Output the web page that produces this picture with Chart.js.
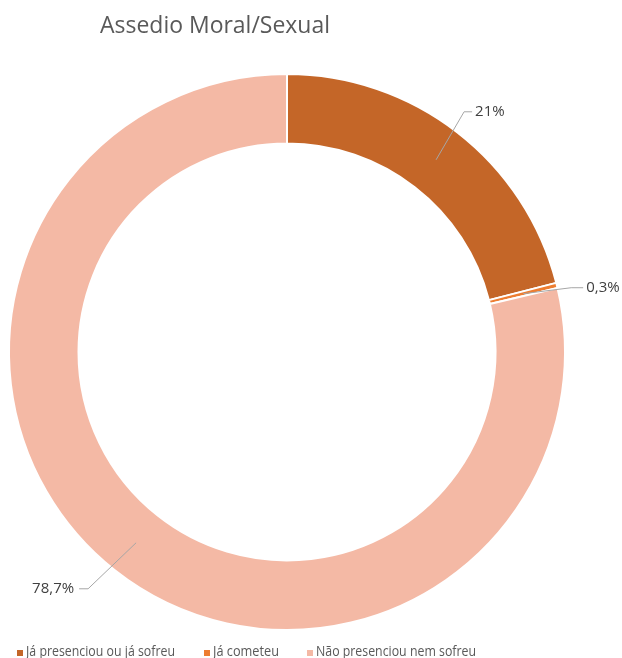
<!DOCTYPE html>
<html>
<head>
<meta charset="utf-8">
<script src="https://cdn.jsdelivr.net/npm/chart.js@4.4.1/dist/chart.umd.min.js"></script>
<style>
  html, body { margin: 0; padding: 0; background: #fff; overflow: hidden; }
  #wrap { width: 622px; height: 658px; position: relative; }
</style>
</head>
<body>
<div id="wrap"><canvas id="chart" width="622" height="658"></canvas></div>
<script>
// Chart data
const chartTitle = 'Assedio Moral/Sexual';
const categories = ['Já presenciou ou já sofreu', 'Já cometeu', 'Não presenciou nem sofreu'];
const values = [21, 0.3, 78.7];
const valueLabels = ['21%', '0,3%', '78,7%'];
const colors = ['#C46628', '#ED7D31', '#F4B9A5'];

// Leader line elbows relative to each slice anchor: [dx, dy, horizontal tail]
const leaderOffsets = [[28, -48, 8], [48, -6, 12], [-48, 46, -9]];
const legendX = [17, 204, 307];
const legendWidths = [149, 66, 160];

const textColor = '#595959';
const baseFont = '"Open Sans", "Noto Sans", sans-serif';

// Draws the title, data labels with leader lines and the legend
const decorations = {
    id: 'decorations',
    afterDatasetsDraw(chart) {
        const ctx = chart.ctx;
        const arcs = chart.getDatasetMeta(0).data;
        ctx.save();

        // title
        ctx.fillStyle = textColor;
        ctx.font = '24px ' + baseFont;
        ctx.textAlign = 'left';
        ctx.textBaseline = 'alphabetic';
        ctx.fillText(chartTitle, 100, 33, 230);

        // data labels
        ctx.font = '15px ' + baseFont;
        ctx.textBaseline = 'middle';
        arcs.forEach(function(arc, i) {
            const p = arc.getProps(['x', 'y', 'startAngle', 'endAngle', 'innerRadius', 'outerRadius'], true);
            const mid = (p.startAngle + p.endAngle) / 2;
            const r = (p.innerRadius + p.outerRadius) / 2;
            const ax = p.x + Math.cos(mid) * r;
            const ay = p.y + Math.sin(mid) * r;
            const off = leaderOffsets[i];
            const ex = ax + off[0], ey = ay + off[1];
            const tx = ex + off[2];
            ctx.strokeStyle = '#A6A6A6';
            ctx.lineWidth = 1;
            ctx.beginPath();
            ctx.moveTo(ax, ay);
            ctx.lineTo(ex, ey);
            ctx.lineTo(tx, ey);
            ctx.stroke();
            ctx.fillStyle = '#404040';
            if (off[2] >= 0) {
                ctx.textAlign = 'left';
                ctx.fillText(valueLabels[i], tx + 3, ey);
            } else {
                ctx.textAlign = 'right';
                ctx.fillText(valueLabels[i], tx - 5, ey);
            }
        });

        // legend
        ctx.font = '15px ' + baseFont;
        ctx.textAlign = 'left';
        ctx.textBaseline = 'alphabetic';
        categories.forEach(function(cat, i) {
            ctx.fillStyle = colors[i];
            ctx.fillRect(legendX[i], 650, 6, 6);
            ctx.fillStyle = textColor;
            ctx.fillText(cat, legendX[i] + 9, 656, legendWidths[i]);
        });

        ctx.restore();
    }
};

const ctx = document.getElementById('chart').getContext('2d');
new Chart(ctx, {
    type: 'doughnut',
    data: {
        labels: categories,
        datasets: [{
            data: values,
            backgroundColor: colors,
            borderColor: '#ffffff',
            borderWidth: 2,
            hoverOffset: 0
        }]
    },
    options: {
        responsive: false,
        animation: false,
        cutout: '75%',
        layout: {
            padding: { left: 8, right: 56, top: 73, bottom: 27 }
        },
        plugins: {
            legend: { display: false },
            title: { display: false },
            tooltip: { enabled: false }
        }
    },
    plugins: [decorations]
});
</script>
</body>
</html>
